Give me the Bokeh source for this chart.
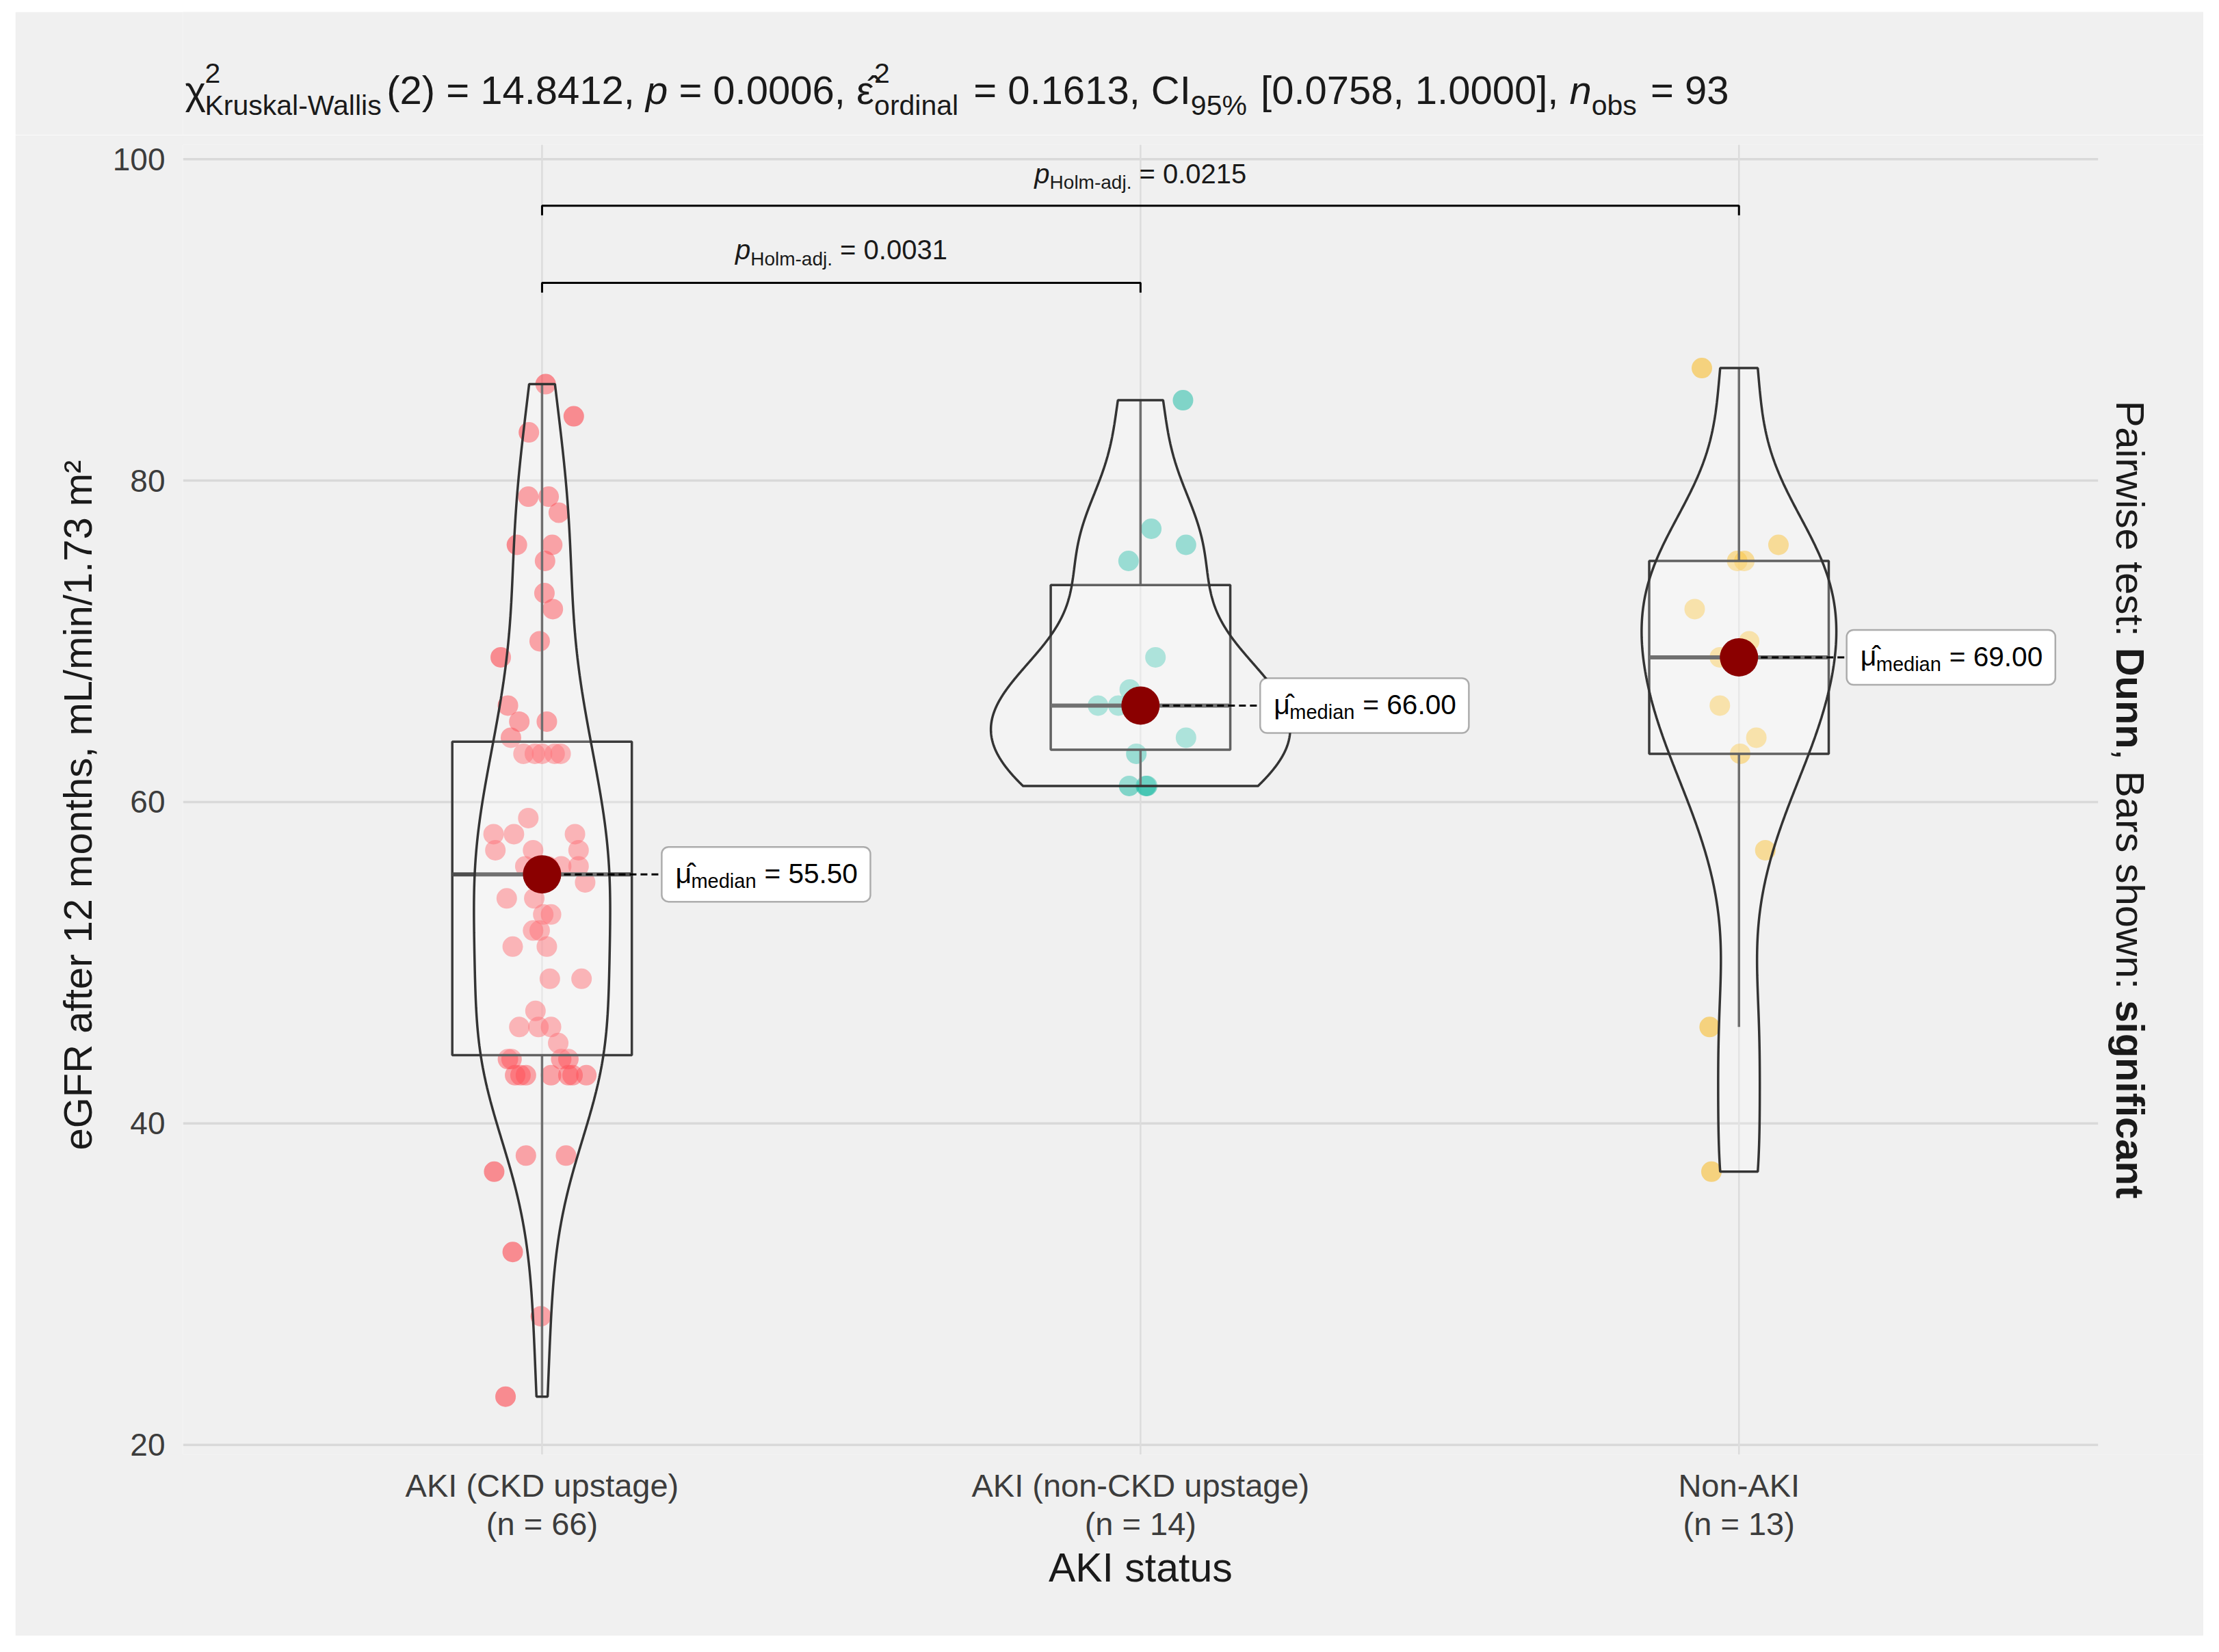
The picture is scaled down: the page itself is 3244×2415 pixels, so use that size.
import numpy as np
from bokeh.plotting import figure
from bokeh.models import Label, FixedTicker, BoxAnnotation, Range1d, LinearAxis, Title
from bokeh.layouts import column
from bokeh.embed import file_html
from bokeh.resources import INLINE

FONT = "Liberation Sans"
BG = "#F0F0F0"

# ---------------- data ----------------
categories = ["AKI (CKD upstage)", "AKI (non-CKD upstage)", "Non-AKI"]

egfr_ckd_upstage = [86, 84, 83, 79, 79, 78, 76, 76, 75, 73, 72, 70, 69, 66, 65, 65, 64,
                    63, 63, 63, 63, 63, 59, 58, 58, 58, 57, 57, 57, 56, 56, 56, 56, 55,
                    54, 54, 53, 53, 52, 52, 51, 51, 49, 49, 47, 46, 46, 46, 45, 44, 44,
                    44, 44, 43, 43, 43, 43, 43, 43, 43, 38, 38, 37, 32, 28, 23]
jitter_ckd_upstage = [0.006, 0.053, -0.022, -0.023, 0.011, 0.028, -0.042, 0.017, 0.005, 0.004,
                      0.018, -0.004, -0.069, -0.057, -0.038, 0.008, -0.052, -0.031, -0.012, 0.000,
                      0.021, 0.031, -0.023, -0.081, -0.047, 0.055, -0.078, -0.015, 0.061, -0.028,
                      0.010, 0.032, 0.061, 0.072, -0.059, -0.013, 0.015, 0.002, -0.015, -0.004,
                      -0.049, 0.008, 0.013, 0.066, -0.011, -0.038, -0.006, 0.015, 0.027, -0.057,
                      -0.051, 0.032, 0.044, -0.045, -0.036, -0.027, 0.015, 0.044, 0.051, 0.074,
                      -0.027, 0.040, -0.080, -0.049, -0.002, -0.061]

egfr_non_ckd_upstage = [85, 77, 76, 75, 69, 67, 66, 66, 66, 64, 63, 61, 61, 61]
jitter_non_ckd_upstage = [0.071, 0.018, 0.076, -0.020, 0.025, -0.018, -0.071, -0.037, 0.000,
                          0.076, -0.007, -0.019, 0.009, 0.011]

egfr_non_aki = [87, 76, 75, 75, 72, 70, 69, 66, 64, 63, 57, 46, 37]
jitter_non_aki = [-0.062, 0.066, -0.003, 0.009, -0.074, 0.017, -0.032, -0.032, 0.029, 0.002,
                  0.044, -0.049, -0.046]

point_colors = ["#FF2630", "#10B8A0", "#FAB40C"]

pairwise_pairs = [(1, 2), (1, 3)]
pairwise_p = ["0.0031", "0.0215"]
bracket_y = [92.3, 97.1]
bracket_label_y = [93.7, 98.45]

y_ticks = [20, 40, 60, 80, 100]

kw_df = "2"
kw_stat = "14.8412"
kw_p = "0.0006"
eps_sq = "0.1613"
eps_ci = "[0.0758, 1.0000]"
n_obs = "93"

# ---------------- geometry (page pixels) ----------------
OX, OY = 22, 17                 # top-left corner of the grey area
GRAY_R, GRAY_B = 3221, 2391
UNIT_X = 874.9                  # pixels per category step
PANEL_L = 267
PANEL_R = PANEL_L + 3.2 * UNIT_X
FRAME_T, FRAME_B = 211, 2126
TITLE_BOTTOM = 197
TOTAL_W = GRAY_R - OX
TITLE_H = TITLE_BOTTOM - OY
MAIN_H = GRAY_B - TITLE_BOTTOM
BL = PANEL_L - OX
BT = FRAME_T - TITLE_BOTTOM
BB = GRAY_B - FRAME_B
X0, X1 = 0.4, 3.6
Y0, Y1 = 19.39, 100.9
FH = FRAME_B - FRAME_T
X1_EXT = X0 + (GRAY_R - PANEL_L) / UNIT_X   # frame runs on to the grey edge
BASE_SHIFT = 0.38


def xd(page_x):
    return X0 + (page_x - PANEL_L) / UNIT_X


def yd(page_y):
    return Y1 - (page_y - FRAME_T) / FH * (Y1 - Y0)


def xpx(x):
    return PANEL_L + (x - X0) * UNIT_X


def ypx(y):
    return FRAME_T + (Y1 - y) / (Y1 - Y0) * FH


AW = {' ': 278, '!': 278, '%': 889, '(': 333, ')': 333, ',': 278, '-': 333, '.': 278, '/': 278,
      ':': 278, '=': 584, '[': 278, ']': 278,
      'A': 667, 'B': 667, 'C': 722, 'D': 722, 'E': 667, 'F': 611, 'G': 778, 'H': 722, 'I': 278,
      'J': 500, 'K': 667, 'L': 556, 'M': 833, 'N': 722, 'O': 778, 'P': 667, 'Q': 778, 'R': 722,
      'S': 667, 'T': 611, 'U': 722, 'V': 667, 'W': 944, 'X': 667, 'Y': 667, 'Z': 611,
      'a': 556, 'b': 556, 'c': 500, 'd': 556, 'e': 556, 'f': 278, 'g': 556, 'h': 556, 'i': 222,
      'j': 222, 'k': 500, 'l': 222, 'm': 833, 'n': 556, 'o': 556, 'p': 556, 'q': 556, 'r': 333,
      's': 500, 't': 278, 'u': 556, 'v': 500, 'w': 722, 'x': 500, 'y': 500, 'z': 500,
      '\u03c7': 500, '\u03b5': 450, '\u03bc': 576, '\u0302': 0}
for d in "0123456789":
    AW[d] = 556
AWB = dict(AW)
AWB.update({'D': 722, 'u': 611, 'n': 611, 's': 556, 'i': 278, 'g': 611, 'f': 333, 'c': 556,
            'a': 556, 't': 333})


def tw(s, size, bold=False):
    tbl = AWB if bold else AW
    return sum(tbl.get(ch, 556) for ch in s) * size / 1000.0


def put(fig, conv, text, px, py, size, style="normal", angle=0.0, color="#1A1A1A"):
    """Place a text piece whose baseline starts at page position (px, py)."""
    bold = style == "bold"
    lead = len(text) - len(text.lstrip(" "))
    if angle == 0.0:
        px += tw(" " * lead, size, bold)
        py -= BASE_SHIFT * size
    else:
        py += tw(" " * lead, size, bold)
    x, y = conv(px, py)
    fig.add_layout(Label(x=x, y=y, text=text.strip(" "), text_font=FONT,
                         text_font_size=f"{size}px", text_font_style=style, text_color=color,
                         text_align="left", text_baseline="alphabetic", angle=angle))


def ident(px, py):
    return px, py


def main_conv(px, py):
    return xd(px), yd(py)


# ---------------- main figure ----------------
p = figure(width=TOTAL_W, height=MAIN_H, x_range=Range1d(X0, X1_EXT), y_range=Range1d(Y0, Y1),
           output_backend="svg", toolbar_location=None,
           min_border_left=BL, min_border_right=0, min_border_top=BT, min_border_bottom=BB,
           background_fill_color=BG, border_fill_color=BG, outline_line_color=None)
p.title.visible = False
p.xgrid.visible = False
p.ygrid.visible = False

groups = [egfr_ckd_upstage, egfr_non_ckd_upstage, egfr_non_aki]
jitters = [jitter_ckd_upstage, jitter_non_ckd_upstage, jitter_non_aki]
ns = [len(g) for g in groups]
xpos = [1, 2, 3]

# panel grid (limited to the panel, 0.4 .. 3.6)
p.segment([X0] * len(y_ticks), y_ticks, [X1] * len(y_ticks), y_ticks,
          line_color="#D9D9D9", line_width=3.5)
p.segment(xpos, [Y0] * 3, xpos, [Y1] * 3, line_color="#DCDCDC", line_width=2.5)

p.xaxis.ticker = FixedTicker(ticks=xpos)
p.xaxis.major_label_overrides = {i + 1: c for i, c in enumerate(categories)}
p.yaxis.ticker = FixedTicker(ticks=y_ticks)
ax_n = LinearAxis(ticker=FixedTicker(ticks=xpos),
                  major_label_overrides={i + 1: f"(n = {n})" for i, n in enumerate(ns)})
p.add_layout(ax_n, "below")
for ax in (p.xaxis[0], ax_n, p.yaxis[0]):
    ax.axis_line_color = None
    ax.major_tick_line_color = None
    ax.minor_tick_line_color = None
    ax.major_tick_out = 0
    ax.major_tick_in = 0
    ax.minor_tick_out = 0
    ax.major_label_text_font = FONT
    ax.major_label_text_color = "#3C3C3C"
    ax.axis_label_text_font = FONT
    ax.axis_label_text_font_style = "normal"
    ax.axis_label_text_color = "#1A1A1A"
p.yaxis.major_label_text_font_size = "46px"
p.xaxis[0].major_label_text_font_size = "47px"
ax_n.major_label_text_font_size = "47px"
p.yaxis.major_label_standoff = 26
p.xaxis[0].major_label_standoff = 18
ax_n.major_label_standoff = 0
p.yaxis.axis_label = "eGFR after 12 months,  mL/min/1.73 m\u00b2"
p.yaxis.axis_label_text_font_size = "58px"
p.yaxis.axis_label_standoff = 16

# x-axis title, centred on the panel (the frame continues to the caption on the right)
XT = "AKI status"
panel_centre = (PANEL_L + PANEL_R) / 2
xt_left = panel_centre - tw(XT, 59) / 2
p.add_layout(Title(text=XT, align="left", offset=xt_left - PANEL_L,
                   text_font=FONT, text_font_size="59px", text_font_style="normal",
                   text_color="#1A1A1A", standoff=0), "below")


def kde(vals):
    v = np.asarray(vals, float)
    n = len(v)
    sd = v.std(ddof=1)
    iqr = np.percentile(v, 75) - np.percentile(v, 25)
    lo = min(sd, iqr / 1.34)
    bw = 0.9 * lo * n ** -0.2
    grid = np.linspace(v.min(), v.max(), 512)
    dens = np.exp(-0.5 * ((grid[:, None] - v[None, :]) / bw) ** 2).sum(1) / (n * bw * np.sqrt(2 * np.pi))
    return grid, dens


kdes = [kde(g) for g in groups]
dmax = max(d.max() for _, d in kdes)

for i, (g, j) in enumerate(zip(groups, jitters)):
    xs = [xpos[i] + o for o in j]
    p.scatter(xs, g, size=30, color=point_colors[i], alpha=0.5, line_color=None)

medians = []
for i, g in enumerate(groups):
    cx = xpos[i]
    v = np.asarray(g, float)
    q1, med, q3 = np.percentile(v, [25, 50, 75])
    iqr = q3 - q1
    lo_w = v[v >= q1 - 1.5 * iqr].min()
    hi_w = v[v <= q3 + 1.5 * iqr].max()
    medians.append(med)
    p.segment([cx, cx], [q3, q1], [cx, cx], [hi_w, lo_w], line_color="#4A4A4A", line_width=3.5)
    p.quad(left=cx - 0.15, right=cx + 0.15, bottom=q1, top=q3, fill_color="white", fill_alpha=0.2,
           line_color="#3A3A3A", line_width=3.5)
    p.segment([cx - 0.15], [med], [cx + 0.15], [med], line_color="#4D4D4D", line_width=6)
    grid, dens = kdes[i]
    w = dens / dmax * 0.25
    vx = np.concatenate([cx - w, (cx + w)[::-1]])
    vy = np.concatenate([grid, grid[::-1]])
    p.patch(vx, vy, fill_color="white", fill_alpha=0.2, line_color="#333333", line_width=3.5)

# median points + labels
label_off = [0.2, 0.2, 0.18]
for i, med in enumerate(medians):
    cx = xpos[i]
    p.line([cx, cx + label_off[i]], [med, med], line_color="black", line_width=3, line_dash="10 6")
    p.scatter([cx], [med], size=56, color="#8B0000", line_color=None)
    bl = xpx(cx + label_off[i])
    bc = ypx(med)
    p.add_layout(BoxAnnotation(left=xd(bl), right=xd(bl + 305), top=yd(bc - 40), bottom=yd(bc + 40),
                               fill_color="white", fill_alpha=1.0, line_color="black",
                               line_width=2.5, border_radius=10, level="annotation"))
    put(p, main_conv, "\u03bc\u0302", bl + 20, bc + 14, 41, color="black")
    put(p, main_conv, "median", bl + 43, bc + 21, 29, color="black")
    put(p, main_conv, f"= {med:.2f}", bl + 150, bc + 14, 40.6, color="black")

# pairwise brackets
for (a, b), pv, by, ly in zip(pairwise_pairs, pairwise_p, bracket_y, bracket_label_y):
    tip = 0.6
    p.line([a, a, b, b], [by - tip, by, by, by - tip], line_color="black", line_width=3)
    cxp = xpx((a + b) / 2)
    bpy = ypx(ly)
    total = tw("p", 40) + tw("Holm-adj.", 28) + tw(" = " + pv, 40)
    x = cxp - total / 2
    put(p, main_conv, "p", x, bpy, 40, style="italic")
    x += tw("p", 40)
    put(p, main_conv, "Holm-adj.", x, bpy + 8, 28)
    x += tw("Holm-adj.", 28)
    put(p, main_conv, " = " + pv, x, bpy, 40)

# right-side caption (pairwise test), reading top to bottom
pieces = [("Pairwise test: ", "normal"), ("Dunn", "bold"), (", Bars shown: ", "normal"),
          ("significant", "bold")]
total = sum(tw(t, 58, st == "bold") for t, st in pieces)
y = (FRAME_T + FRAME_B) / 2 - total / 2
for t, st in pieces:
    put(p, main_conv, t, 3114, y, 58, style=st, angle=-np.pi / 2)
    y += tw(t, 58, st == "bold")

# ---------------- subtitle figure ----------------
tf = figure(width=TOTAL_W, height=TITLE_H, x_range=Range1d(PANEL_L, GRAY_R),
            y_range=Range1d(TITLE_BOTTOM, OY), x_axis_type=None, y_axis_type=None,
            output_backend="svg", toolbar_location=None,
            min_border_left=BL, min_border_right=0, min_border_top=0,
            min_border_bottom=0, background_fill_color=BG, border_fill_color=BG,
            outline_line_color=None)
tf.title.visible = False
tf.xgrid.visible = False
tf.ygrid.visible = False

MAIN, SUB = 58, 41
TB = 153
x = 270.0
put(tf, ident, "\u03c7", x, TB, MAIN)
x += tw("\u03c7", MAIN)
put(tf, ident, "2", x, TB - 31, SUB)
put(tf, ident, "Kruskal-Wallis", x, TB + 16, SUB)
x += tw("Kruskal-Wallis", SUB) + 6
s = f"({kw_df}) = {kw_stat}, "
put(tf, ident, s, x, TB, MAIN); x += tw(s, MAIN)
put(tf, ident, "p", x, TB, MAIN, style="italic"); x += tw("p", MAIN)
s = f" = {kw_p}, "
put(tf, ident, s, x, TB, MAIN); x += tw(s, MAIN)
put(tf, ident, "\u03b5\u0302", x, TB, MAIN); x += tw("\u03b5", MAIN)
put(tf, ident, "2", x, TB - 31, SUB)
put(tf, ident, "ordinal", x, TB + 16, SUB)
x += tw("ordinal", SUB) + 6
s = f" = {eps_sq}, CI"
put(tf, ident, s, x, TB, MAIN); x += tw(s, MAIN)
put(tf, ident, "95%", x, TB + 16, SUB); x += tw("95%", SUB) + 4
s = f" {eps_ci}, "
put(tf, ident, s, x, TB, MAIN); x += tw(s, MAIN)
put(tf, ident, "n", x, TB, MAIN, style="italic"); x += tw("n", MAIN)
put(tf, ident, "obs", x, TB + 16, SUB); x += tw("obs", SUB) + 4
put(tf, ident, f" = {n_obs}", x, TB, MAIN)

layout = column(tf, p, margin=(OY, 0, 0, OX))
open("out.html", "w").write(file_html(layout, INLINE))
